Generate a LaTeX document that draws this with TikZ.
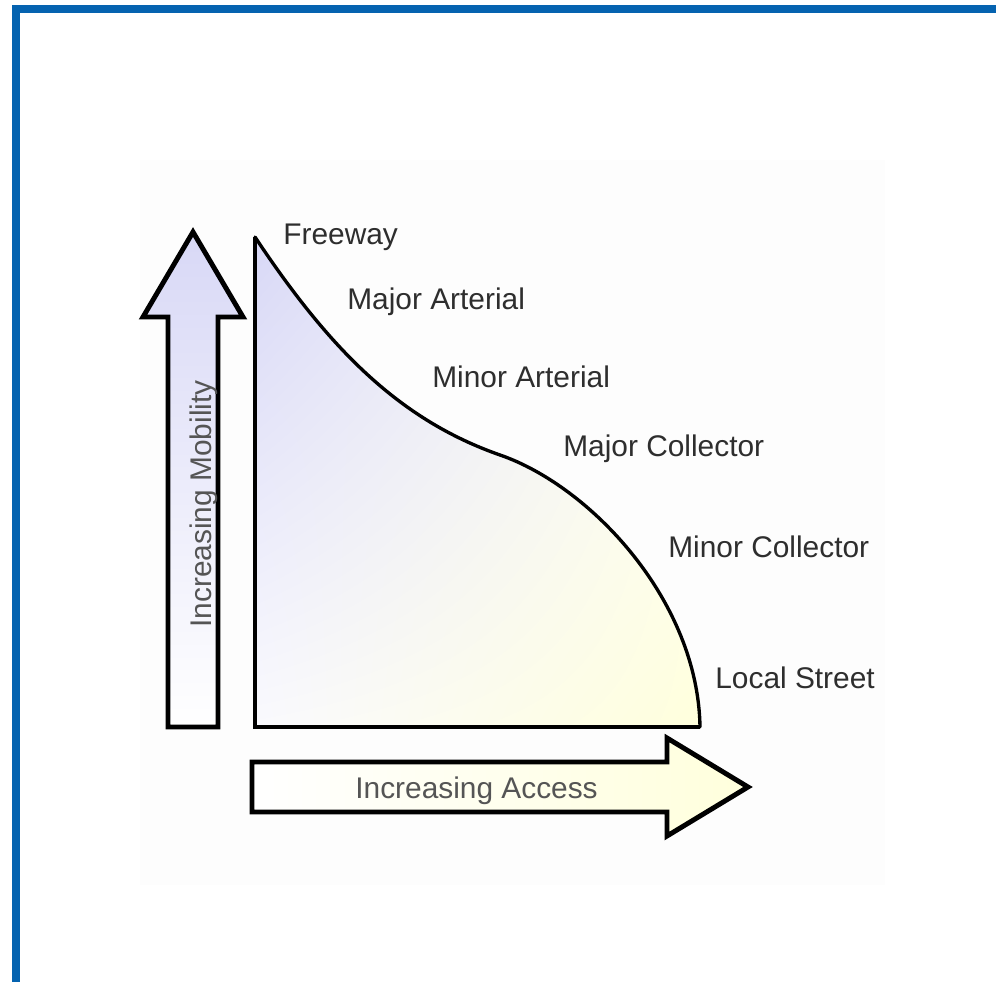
\documentclass[tikz,border=0pt]{standalone}
\usepackage{fontspec}
\setmainfont{Liberation Sans}
\usetikzlibrary{shadings}
\definecolor{Frame}{HTML}{0563B0}
\definecolor{Ink}{HTML}{2E2E2E}
\definecolor{Soft}{HTML}{555555}
\definecolor{Lilac}{HTML}{D8D8F6}
\definecolor{LilacPale}{HTML}{FAFAFE}
\definecolor{Cream}{HTML}{FFFFDC}
\definecolor{Backdrop}{HTML}{FDFDFD}
\tikzset{
  outline/.style={draw=black,line width=2.8pt,line join=miter},
  axisline/.style={draw=black,line width=2.6pt,line join=miter},
  curveline/.style={draw=black,line width=1.9pt,line cap=round},
  roadlabel/.style={anchor=base west,inner sep=0pt,text=Ink,font=\fontsize{17}{20}\selectfont},
  axislabel/.style={anchor=base west,inner sep=0pt,text=Soft,font=\fontsize{17}{20}\selectfont}
}

\begin{document}
\begin{tikzpicture}[x=0.02cm,y=-0.02cm]
  \useasboundingbox (0,0) rectangle (996,982);
  \fill[Backdrop] (140,160) rectangle (885,885);
  % frame
  \fill[Frame] (12,5) rectangle (996,13);
  \fill[Frame] (12,5) rectangle (20,982);
  % mobility arrow
  \shade[top color=Lilac,bottom color=white,outline] (168,727) -- (168,317) -- (143,317) -- (193,232)
    -- (243,317) -- (218,317) -- (218,727) -- cycle;
  % access arrow
  \shade[left color=white,right color=Cream,outline] (252,762) -- (667,762) -- (667,738) -- (748,787)
    -- (667,836) -- (667,812) -- (252,812) -- cycle;
  % chart area
  \coordinate (top) at (255,237);
  \coordinate (bend) at (500,455);
  \coordinate (corner) at (255,727);
  \coordinate (foot) at (700,727);
  \shade[upper left=Lilac,upper right=white,lower left=LilacPale,lower right=Cream]
    (top) .. controls (330,350) and (400,420) .. (bend) .. controls (590,486) and (698,600) .. (foot)
    -- (corner) -- cycle;
  \draw[curveline] (top) .. controls (330,350) and (400,420) .. (bend) .. controls (590,486) and (698,600) .. (foot);
  \draw[axisline] (top) -- (corner) -- (foot);
  % labels
  \node[roadlabel] (freeway) at (283,245) {Freeway};
  \node[roadlabel] (majart) at (347,310) {Major Arterial};
  \node[roadlabel] (minart) at (432,388) {Minor Arterial};
  \node[roadlabel] (majcol) at (563,457) {Major Collector};
  \node[roadlabel] (mincol) at (668,557) {Minor Collector};
  \node[roadlabel] (local) at (715,688) {Local Street};
  \node[axislabel] (access) at (355,798) {Increasing Access};
  \node[axislabel,rotate=90] (mobility) at (211,628) {Increasing Mobility};
\end{tikzpicture}
\end{document}
